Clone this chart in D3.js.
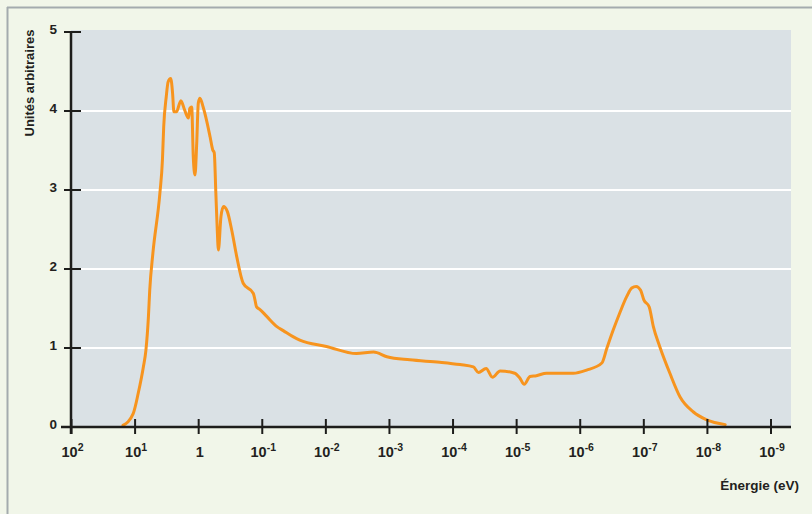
<!DOCTYPE html>
<html>
<head>
<meta charset="utf-8">
<script src="https://cdn.jsdelivr.net/npm/d3@7"></script>
<style>
  body { margin: 0; background: #f1f6e9; }
  svg { display: block; font-family: "Liberation Sans", Arial, sans-serif; }
</style>
</head>
<body>
<script>
// Spectre : énergie (log10 eV) et intensité
var logEnergy = [1.19, 1.03, 0.95, 0.87, 0.83, 0.79, 0.77, 0.72, 0.61, 0.57,
    0.55, 0.51, 0.48, 0.44, 0.41, 0.39, 0.35, 0.28, 0.22, 0.16,
    0.14, 0.11, 0.085, 0.058, 0.031, 0.006, -0.02, -0.07, -0.13, -0.18,
    -0.22, -0.245, -0.27, -0.29, -0.31, -0.35, -0.39, -0.45, -0.52, -0.60,
    -0.70, -0.86, -0.885, -0.91, -0.96, -1.07, -1.23, -1.33, -1.49, -1.59,
    -2.01, -2.48, -2.75, -2.96, -3.32, -3.79, -4.11, -4.32, -4.40, -4.52,
    -4.62, -4.74, -4.97, -5.05, -5.12, -5.21, -5.31, -5.47, -5.89, -6.10,
    -6.34, -6.42, -6.52, -6.62, -6.73, -6.81, -6.88, -6.95, -7.00, -7.085,
    -7.15, -7.25, -7.41, -7.57, -7.78, -7.99, -8.28];
var intensity = [0.02, 0.17, 0.43, 0.76, 0.97, 1.40, 1.73, 2.2, 2.96, 3.38,
    3.80, 4.18, 4.37, 4.41, 4.22, 3.99, 3.99, 4.13, 4.01, 3.91,
    4.03, 4.05, 3.42, 3.19, 3.59, 4.10, 4.16, 4.05, 3.86, 3.67,
    3.51, 3.47, 2.96, 2.54, 2.24, 2.66, 2.79, 2.73, 2.49, 2.15,
    1.82, 1.69, 1.61, 1.52, 1.49, 1.40, 1.27, 1.22, 1.14, 1.10,
    1.02, 0.93, 0.95, 0.89, 0.85, 0.82, 0.79, 0.76, 0.69, 0.74,
    0.63, 0.71, 0.68, 0.62, 0.54, 0.64, 0.65, 0.68, 0.68, 0.72,
    0.81, 1.0, 1.23, 1.44, 1.65, 1.76, 1.78, 1.73, 1.61, 1.52,
    1.27, 1.02, 0.68, 0.38, 0.19, 0.09, 0.03];

var tickExponents = [2, 1, 0, -1, -2, -3, -4, -5, -6, -7, -8, -9];
var yTicks = [0, 1, 2, 3, 4, 5];
var gridValues = [1, 2, 3, 4];

var width = 812, height = 514;

var svg = d3.select("body").append("svg")
    .attr("width", width)
    .attr("height", height);

// cadre gris en haut et à gauche
svg.append("line").attr("x1", 7).attr("x2", width).attr("y1", 7.5).attr("y2", 7.5)
    .attr("stroke", "#a4abae").attr("stroke-width", 2);
svg.append("line").attr("x1", 7.5).attr("x2", 7.5).attr("y1", 7).attr("y2", height)
    .attr("stroke", "#a4abae").attr("stroke-width", 2);

var x = d3.scaleLog()
    .domain([1e2, 1e-9])
    .range([71.5, 771]);

var y = d3.scaleLinear()
    .domain([0, 5])
    .range([427, 32]);

// fond de la zone de tracé
svg.append("rect")
    .attr("x", 71).attr("y", 30)
    .attr("width", 791 - 71).attr("height", 427 - 30)
    .attr("fill", "#dae1e5");

svg.selectAll("line.grid")
    .data(gridValues)
    .enter()
    .append("line")
    .attr("class", "grid")
    .attr("x1", 72).attr("x2", 791)
    .attr("y1", function (d) { return y(d); })
    .attr("y2", function (d) { return y(d); })
    .attr("stroke", "#ffffff")
    .attr("stroke-width", 2);

// courbe
var points = logEnergy.map(function (e, i) {
    return { energy: Math.pow(10, e), value: intensity[i] };
});

var line = d3.line()
    .x(function (d) { return x(d.energy); })
    .y(function (d) { return y(d.value); })
    .curve(d3.curveMonotoneX);

svg.append("path")
    .datum(points)
    .attr("d", line)
    .attr("fill", "none")
    .attr("stroke", "#f7941e")
    .attr("stroke-width", 3)
    .attr("stroke-linejoin", "round")
    .attr("stroke-linecap", "round");

// axe X
var xAxis = d3.axisBottom(x)
    .tickValues(tickExponents.map(function (e) { return Math.pow(10, e); }))
    .tickSize(0)
    .tickFormat("");

var gx = svg.append("g")
    .attr("transform", "translate(0,427)")
    .call(xAxis);
gx.select(".domain").remove();

svg.append("line")
    .attr("x1", 61).attr("x2", 791)
    .attr("y1", 427).attr("y2", 427)
    .attr("stroke", "#1d1d1b").attr("stroke-width", 2.5);

svg.selectAll("line.xtick")
    .data(tickExponents)
    .enter()
    .append("line")
    .attr("class", "xtick")
    .attr("x1", function (d) { return x(Math.pow(10, d)); })
    .attr("x2", function (d) { return x(Math.pow(10, d)); })
    .attr("y1", 419).attr("y2", 434)
    .attr("stroke", "#1d1d1b").attr("stroke-width", 2);

var xLabels = svg.selectAll("text.xlabel")
    .data(tickExponents)
    .enter()
    .append("text")
    .attr("class", "xlabel")
    .attr("x", function (d) { return x(Math.pow(10, d)) + 1; })
    .attr("y", 457)
    .attr("text-anchor", "middle")
    .attr("font-size", 14.5)
    .attr("font-weight", "bold")
    .attr("fill", "#231f20");

xLabels.each(function (d) {
    var t = d3.select(this);
    if (d === 0) {
        t.text("1");
        return;
    }
    t.append("tspan").text("10");
    t.append("tspan")
        .attr("dy", -6)
        .attr("font-size", 10.5)
        .text(d < 0 ? "-" + (-d) : d);
});

// axe Y
svg.append("line")
    .attr("x1", 71).attr("x2", 71)
    .attr("y1", 31).attr("y2", 434)
    .attr("stroke", "#1d1d1b").attr("stroke-width", 2.5);

svg.selectAll("line.ytick")
    .data(yTicks)
    .enter()
    .append("line")
    .attr("class", "ytick")
    .attr("x1", 64).attr("x2", 81)
    .attr("y1", function (d) { return y(d); })
    .attr("y2", function (d) { return y(d); })
    .attr("stroke", "#1d1d1b").attr("stroke-width", 2);

svg.selectAll("text.ylabel")
    .data(yTicks)
    .enter()
    .append("text")
    .attr("class", "ylabel")
    .attr("x", 57)
    .attr("y", function (d) { return y(d) + 2; })
    .attr("text-anchor", "end")
    .attr("font-size", 13.5)
    .attr("font-weight", "bold")
    .attr("fill", "#231f20")
    .text(function (d) { return d; });

// titres des axes
svg.append("text")
    .attr("transform", "translate(34,83) rotate(-90)")
    .attr("text-anchor", "middle")
    .attr("font-size", 13)
    .attr("font-weight", "bold")
    .attr("fill", "#231f20")
    .text("Unités arbitraires");

svg.append("text")
    .attr("x", 799)
    .attr("y", 490)
    .attr("text-anchor", "end")
    .attr("font-size", 13.5)
    .attr("font-weight", "bold")
    .attr("fill", "#231f20")
    .text("Énergie (eV)");
</script>
</body>
</html>
